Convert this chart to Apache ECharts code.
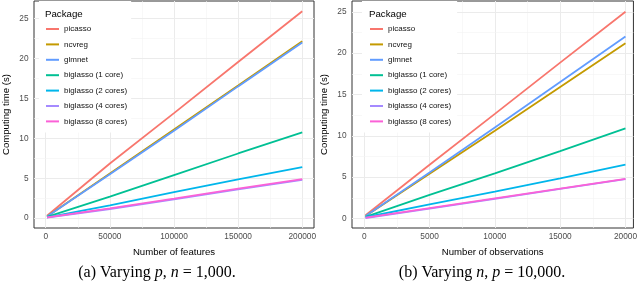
<!DOCTYPE html>
<html>
<head>
<meta charset="utf-8">
<script src="https://cdn.jsdelivr.net/npm/echarts@6/dist/echarts.min.js"></script>
<style>
html,body{margin:0;padding:0;background:#fff;}
#chart{width:640px;height:281px;}
</style>
</head>
<body>
<div id="chart"></div>
<script>
// ---------- data ----------
const packages = ['picasso', 'ncvreg', 'glmnet', 'biglasso (1 core)', 'biglasso (2 cores)', 'biglasso (4 cores)', 'biglasso (8 cores)'];

// Panel (a): varying p, n = 1,000
const featuresX = [1000, 50000, 100000, 150000, 200000];
const aPicasso = [0.3, 6.85, 13.15, 19.55, 25.9];
const aNcvreg  = [0.2, 5.6, 11.1, 16.6, 22.15];
const aGlmnet  = [0.2, 5.5, 10.95, 16.5, 22.0];
const aBig1    = [0.15, 2.7, 5.4, 8.1, 10.75];
const aBig2    = [0.1, 1.6, 3.25, 4.85, 6.4];
const aBig4    = [0.06, 1.15, 2.35, 3.6, 4.8];
const aBig8    = [0.1, 1.22, 2.45, 3.7, 4.9];

// Panel (b): varying n, p = 10,000
const observationsX = [100, 5000, 10000, 15000, 20000];
const bPicasso = [0.4, 6.5, 12.65, 18.85, 25.0];
const bNcvreg  = [0.3, 5.4, 10.6, 15.9, 21.2];
const bGlmnet  = [0.3, 5.55, 11.0, 16.5, 22.0];
const bBig1    = [0.2, 2.85, 5.45, 8.15, 10.9];
const bBig2    = [0.15, 1.7, 3.25, 4.85, 6.5];
const bBig4    = [0.05, 1.2, 2.38, 3.57, 4.75];
const bBig8    = [0.1, 1.26, 2.44, 3.62, 4.8];

// tick labels / grid lines
const aXTicks = [0, 50000, 100000, 150000, 200000];
const aXMinor = [25000, 75000, 125000, 175000];
const bXTicks = [0, 5000, 10000, 15000, 20000];
const bXMinor = [2500, 7500, 12500, 17500];
const yTicks = [0, 5, 10, 15, 20, 25];
const yMinor = [2.5, 7.5, 12.5, 17.5, 22.5];

// ---------- style ----------
const colors = ['#F8766D', '#C49A00', '#619CFF', '#00C094', '#00B6EB', '#A58AFF', '#FB61D7'];
const FONT = '"Liberation Sans", Arial, Helvetica, sans-serif';
const SERIF = '"Liberation Serif", "Times New Roman", serif';

const aSets = [aPicasso, aNcvreg, aGlmnet, aBig1, aBig2, aBig4, aBig8];
const bSets = [bPicasso, bNcvreg, bGlmnet, bBig1, bBig2, bBig4, bBig8];

function pairs(xs, ys) { return xs.map((x, i) => [x, ys[i]]); }

function gridLines(idx, xMajor, xMinor) {
  const major = { color: '#EBEBEB', width: 1, type: 'solid' };
  const minor = { color: '#F3F3F3', width: 0.6, type: 'solid' };
  const d = [];
  xMajor.forEach(v => d.push({ xAxis: v, lineStyle: major }));
  xMinor.forEach(v => d.push({ xAxis: v, lineStyle: minor }));
  yTicks.forEach(v => d.push({ yAxis: v, lineStyle: major }));
  yMinor.forEach(v => d.push({ yAxis: v, lineStyle: minor }));
  return {
    type: 'line', name: '_grid' + idx, xAxisIndex: idx, yAxisIndex: idx, data: [],
    silent: true, z: 1,
    markLine: { silent: true, symbol: ['none', 'none'], label: { show: false }, z: 1,
      emphasis: { disabled: true }, animation: false, data: d }
  };
}

const series = [gridLines(0, aXTicks, aXMinor), gridLines(1, bXTicks, bXMinor)];
packages.forEach((name, i) => {
  series.push({
    type: 'line', name, xAxisIndex: 0, yAxisIndex: 0, data: pairs(featuresX, aSets[i]),
    showSymbol: false, symbol: 'none', color: colors[i], z: 3,
    lineStyle: { width: 1.8, color: colors[i] }, animation: false
  });
  series.push({
    type: 'line', name, xAxisIndex: 1, yAxisIndex: 1, data: pairs(observationsX, bSets[i]),
    showSymbol: false, symbol: 'none', color: colors[i], z: 3,
    lineStyle: { width: 1.8, color: colors[i] }, animation: false
  });
});

function xAxis(idx, min, max, ticks, name) {
  return {
    type: 'value', gridIndex: idx, min, max,
    splitLine: { show: false }, axisLine: { show: false },
    axisTick: { show: true, length: 3, lineStyle: { color: '#333', width: 1 }, customValues: ticks },
    axisLabel: { customValues: ticks, formatter: v => String(v), fontSize: 8.3, color: '#4D4D4D', fontFamily: FONT, margin: 4.5 },
    name, nameLocation: 'middle', nameGap: 19,
    nameTextStyle: { fontSize: 9.6, color: '#000', fontFamily: FONT }
  };
}
function yAxis(idx, min, max, gap) {
  return {
    type: 'value', gridIndex: idx, min, max,
    splitLine: { show: false }, axisLine: { show: false },
    axisTick: { show: true, length: 3, lineStyle: { color: '#333', width: 1 }, customValues: yTicks },
    axisLabel: { customValues: yTicks, formatter: v => String(v), fontSize: 8.3, color: '#4D4D4D', fontFamily: FONT, margin: 5.5 },
    name: 'Computing time (s)', nameLocation: 'middle', nameGap: gap, nameRotate: 90,
    nameTextStyle: { fontSize: 9.6, color: '#000', fontFamily: FONT }
  };
}

function legend(left, pad) {
  return {
    data: packages, orient: 'vertical', left, top: 1, padding: pad,
    backgroundColor: '#fff', icon: 'rect', itemWidth: 13, itemHeight: 2, itemGap: 7.4,
    selectedMode: false, z: 6,
    textStyle: { fontSize: 8, color: '#111', fontFamily: FONT }
  };
}

const option = {
  animation: false,
  grid: [
    { left: 28, top: 1, width: 286, height: 227, show: true, borderColor: '#333', borderWidth: 1, backgroundColor: '#fff', containLabel: false },
    { left: 352, top: 1, width: 282, height: 227, show: true, borderColor: '#333', borderWidth: 1, backgroundColor: '#fff', containLabel: false }
  ],
  xAxis: [
    xAxis(0, -9160, 209160, aXTicks, 'Number of features'),
    xAxis(1, -940, 20610, bXTicks, 'Number of observations')
  ],
  yAxis: [
    yAxis(0, -1.23, 27.19, 23),
    yAxis(1, -1.15, 26.3, 22.5)
  ],
  legend: [legend(39, [24, 4, 7, 7]), legend(362, [24, 6, 7, 8])],
  series,
  graphic: [
    { type: 'text', x: 45, y: 14, z: 100, style: { text: 'Package', fontSize: 9.7, fontFamily: FONT, fill: '#000', verticalAlign: 'middle' } },
    { type: 'text', x: 369, y: 14, z: 100, style: { text: 'Package', fontSize: 9.7, fontFamily: FONT, fill: '#000', verticalAlign: 'middle' } },
    { type: 'text', x: 157, y: 273, z: 100, style: {
        text: '(a) Varying {i|p}, {i|n} = 1,000.', fontSize: 16, fontFamily: SERIF, fill: '#000',
        align: 'center', verticalAlign: 'middle',
        rich: { i: { fontStyle: 'italic', fontSize: 16, fontFamily: SERIF } } } },
    { type: 'text', x: 482, y: 273, z: 100, style: {
        text: '(b) Varying {i|n}, {i|p} = 10,000.', fontSize: 16, fontFamily: SERIF, fill: '#000',
        align: 'center', verticalAlign: 'middle',
        rich: { i: { fontStyle: 'italic', fontSize: 16, fontFamily: SERIF } } } }
  ]
};

const chart = echarts.init(document.getElementById('chart'), null, { renderer: 'canvas' });
chart.setOption(option);
</script>
</body>
</html>
